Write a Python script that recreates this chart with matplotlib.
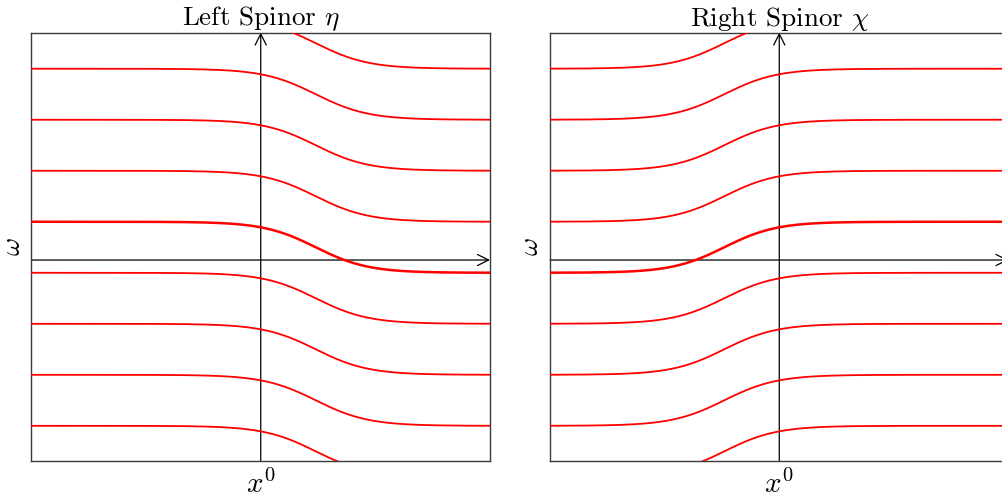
import numpy as np
import matplotlib
matplotlib.use("Agg")
import matplotlib.pyplot as plt

plt.rcParams["font.family"] = "serif"
plt.rcParams["font.serif"] = ["cmr10"]
plt.rcParams["mathtext.fontset"] = "cm"
plt.rcParams["axes.formatter.use_mathtext"] = True

# energy levels far from the wall (left side for eta, right side for chi)
levels = [-3.25, -2.25, -1.25, -0.25, 0.75, 1.75, 2.75, 3.75, 4.75]
zero_mode = 0.75          # the level that crosses omega = 0
level_step = 1.0          # each level flows into its neighbour
wall_center = 1.2         # position of the kink
wall_width = 0.57
titles = [r"Left Spinor $\eta$", r"Right Spinor $\chi$"]
directions = [1, -1]

x_min, x_max = -5.0, 5.0
w_min, w_max = -3.94, 4.46
x = np.linspace(x_min, x_max, 600)


def flow(level, sign):
    # smooth step from one level to the next across the wall
    return level - level_step / (1.0 + np.exp(-(sign * x - wall_center) / wall_width))


fig = plt.figure(figsize=(10.03, 4.97), dpi=100)
positions = [[0.0314, 0.0724, 0.4571, 0.8622], [0.5484, 0.0724, 0.4571, 0.8622]]

for pos, title, sign in zip(positions, titles, directions):
    ax = fig.add_axes(pos)
    ax.set_xlim(x_min, x_max)
    ax.set_ylim(w_min, w_max)
    ax.set_xticks([])
    ax.set_yticks([])
    for sp in ax.spines.values():
        sp.set_color("#3a3a3a")
        sp.set_linewidth(1.0)

    arrow = dict(arrowstyle="->", lw=0.9, color="black", shrinkA=0, shrinkB=0,
                 mutation_scale=20)
    ax.annotate("", xy=(x_max, 0), xytext=(x_min, 0), arrowprops=arrow, zorder=2)
    ax.annotate("", xy=(0, w_max), xytext=(0, w_min), arrowprops=arrow, zorder=2)

    for lev in levels:
        lw = 1.8 if lev == zero_mode else 1.3
        ax.plot(x, flow(lev, sign), color="#ff0000", lw=lw, zorder=3)

    ax.set_title(title, fontsize=19.5, pad=4)
    ax.set_xlabel(r"$x^0$", fontsize=21, labelpad=6)
    ax.set_ylabel(r"$\omega$", fontsize=20, labelpad=4)

fig.savefig("out.png", dpi=100)
